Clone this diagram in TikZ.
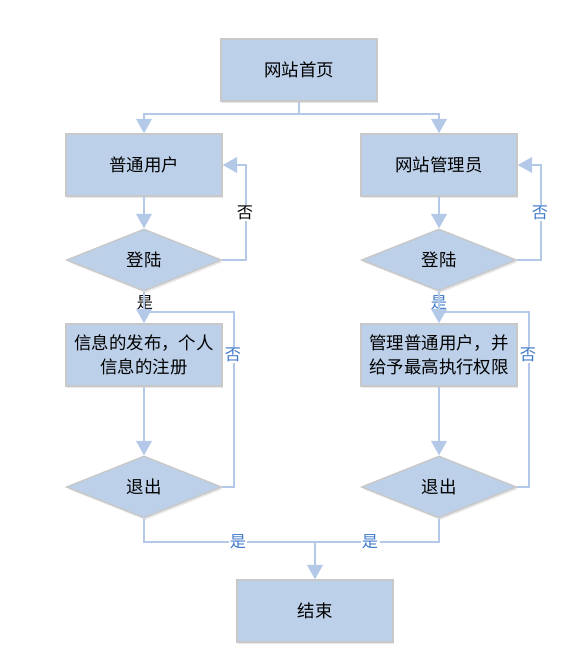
\documentclass[tikz,border=0pt]{standalone}
\usepackage{fontspec}
\setmainfont{Noto Sans CJK SC}
\usepackage{tikz}
\usetikzlibrary{arrows.meta,shapes.geometric,shadows}

\definecolor{boxfill}{RGB}{189,208,233}
\definecolor{boxline}{RGB}{200,200,200}
\definecolor{flow}{RGB}{180,200,232}
\definecolor{labelblue}{RGB}{62,120,200}

\begin{document}
\begin{tikzpicture}[
      x=0.025cm, y=-0.025cm,
      >=Latex,
      box/.style={rectangle, draw=boxline, line width=1pt, fill=boxfill,
        minimum width=3.9cm, minimum height=1.55cm, inner sep=2pt,
        align=center, font=\fontsize{12.4}{17}\selectfont,
        drop shadow={opacity=0.18, shadow xshift=1pt, shadow yshift=-1.5pt}},
      choice/.style={diamond, draw=boxline, line width=1pt, fill=boxfill,
        minimum width=3.875cm, minimum height=1.55cm, inner sep=0pt,
        font=\fontsize{12.4}{17}\selectfont,
        drop shadow={opacity=0.18, shadow xshift=1pt, shadow yshift=-1.5pt}},
      line/.style={draw=flow, line width=1.4pt},
      arrow/.style={line, -{Triangle[length=3.6mm,width=3.9mm]}},
      tag/.style={font=\fontsize{11.5}{13}\selectfont, fill=white, inner sep=1pt},
      tagblue/.style={tag, text=labelblue}
    ]

    \path[use as bounding box] (0,0) rectangle (569,661);

    % Boxes
    \node[box] (home) at (299,70) {网站首页};
    \node[box] (user) at (144,165) {普通用户};
    \node[box] (admin) at (439,165) {网站管理员};
    \node[choice] (login1) at (144,260) {登陆};
    \node[choice] (login2) at (439,260) {登陆};
    \node[box] (task1) at (144,355) {信息的发布，个人\\信息的注册};
    \node[box] (task2) at (439,355) {管理普通用户，并\\给予最高执行权限};
    \node[choice] (quit1) at (144,487) {退出};
    \node[choice] (quit2) at (439,487) {退出};
    \node[box] (finish) at (315,611) {结束};

    % Junction points
    \coordinate (split) at (299,114);
    \coordinate (join1) at (144,312);
    \coordinate (join2) at (439,312);
    \coordinate (merge) at (315,542);

    % Home to both roles
    \draw[line] (home) -- (split);
    \draw[arrow] (split) -| (user);
    \draw[arrow] (split) -| (admin);

    % Login loops
    \draw[arrow] (user) -- (login1);
    \draw[arrow] (admin) -- (login2);
    \draw[arrow] (login1.east) -- ++(24,0) |- (user.east);
    \draw[arrow] (login2.east) -- ++(24,0) |- (admin.east);
    \node[tag] (no1) at (245,213) {否};
    \node[tagblue] (no2) at (540,213) {否};

    % Logged in
    \node[tag] (yes1) at (145,303) {是};
    \node[tagblue] (yes2) at (439,303) {是};
    \draw[arrow] (login1) -- (task1);
    \draw[arrow] (login2) -- (task2);

    % Quit loops
    \draw[arrow] (task1) -- (quit1);
    \draw[arrow] (task2) -- (quit2);
    \draw[line] (quit1.east) -- ++(12,0) |- (join1);
    \draw[line] (quit2.east) -- ++(12,0) |- (join2);
    \node[tagblue] (no3) at (233,355) {否};
    \node[tagblue] (no4) at (528,355) {否};

    % To the end
    \draw[line] (quit1) |- (merge);
    \draw[line] (quit2) |- (merge);
    \draw[arrow] (merge) -- (finish);
    \node[tagblue] (yes3) at (238,542) {是};
    \node[tagblue] (yes4) at (370,542) {是};

  \end{tikzpicture}
\end{document}
